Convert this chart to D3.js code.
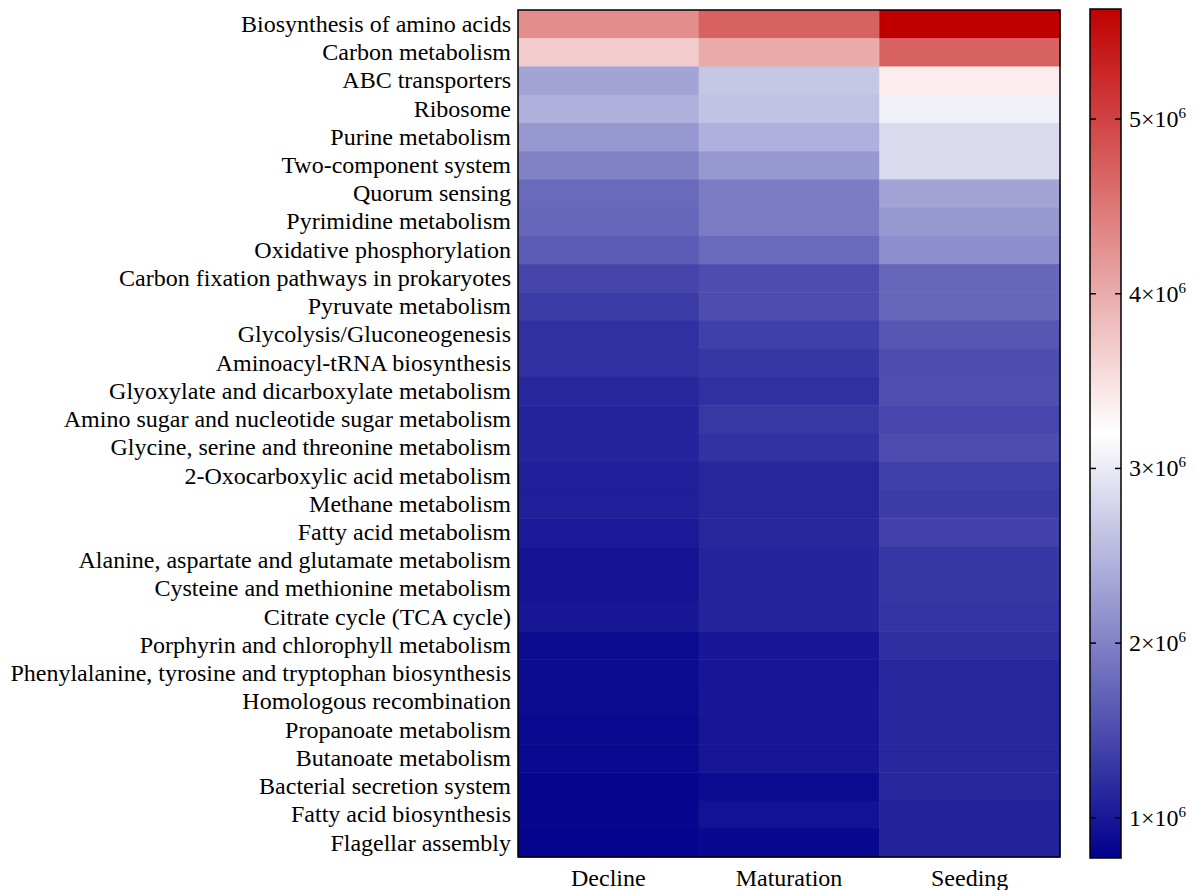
<!DOCTYPE html>
<html>
<head>
<meta charset="utf-8">
<script src="https://cdn.jsdelivr.net/npm/d3@7"></script>
<style>
  body { margin: 0; background: #fff; }
  text { font-family: "Liberation Serif", "Times New Roman", serif; fill: #000; }
</style>
</head>
<body>
<script>
var w = 1195, h = 890;
var plot = {left: 518, right: 1060, top: 10, bottom: 857};
var bar = {left: 1090, right: 1121, top: 9, bottom: 858};

// pathways, top to bottom
var pathways = [
  "Biosynthesis of amino acids", "Carbon metabolism", "ABC transporters", "Ribosome",
  "Purine metabolism", "Two-component system", "Quorum sensing", "Pyrimidine metabolism",
  "Oxidative phosphorylation", "Carbon fixation pathways in prokaryotes", "Pyruvate metabolism",
  "Glycolysis/Gluconeogenesis", "Aminoacyl-tRNA biosynthesis", "Glyoxylate and dicarboxylate metabolism",
  "Amino sugar and nucleotide sugar metabolism", "Glycine, serine and threonine metabolism",
  "2-Oxocarboxylic acid metabolism", "Methane metabolism", "Fatty acid metabolism",
  "Alanine, aspartate and glutamate metabolism", "Cysteine and methionine metabolism",
  "Citrate cycle (TCA cycle)", "Porphyrin and chlorophyll metabolism",
  "Phenylalanine, tyrosine and tryptophan biosynthesis", "Homologous recombination",
  "Propanoate metabolism", "Butanoate metabolism", "Bacterial secretion system",
  "Fatty acid biosynthesis", "Flagellar assembly"
];
var stages = ["Decline", "Maturation", "Seeding"];

// abundance (x10^6) per stage, same order as pathways
var decline = [4.29, 3.69, 2.32, 2.45, 2.20, 2.00, 1.78, 1.74, 1.65, 1.42, 1.34, 1.23, 1.23, 1.13, 1.11,
  1.11, 1.07, 1.07, 1.02, 0.96, 0.96, 1.00, 0.88, 0.88, 0.88, 0.87, 0.87, 0.83, 0.83, 0.81];
var maturation = [4.70, 4.00, 2.66, 2.62, 2.45, 2.22, 1.95, 1.95, 1.78, 1.50, 1.50, 1.38, 1.28, 1.23, 1.30,
  1.25, 1.13, 1.13, 1.13, 1.11, 1.11, 1.11, 1.00, 0.98, 1.00, 0.98, 0.98, 0.88, 0.94, 0.85];
var seeding = [5.63, 4.70, 3.37, 3.06, 2.85, 2.85, 2.32, 2.22, 2.12, 1.74, 1.74, 1.59, 1.50, 1.52, 1.44,
  1.50, 1.38, 1.34, 1.40, 1.28, 1.28, 1.27, 1.21, 1.15, 1.15, 1.15, 1.15, 1.15, 1.09, 1.09];

var colorDomain = [0.77e6, 3.2e6, 5.63e6];
var colorTicks = [1e6, 2e6, 3e6, 4e6, 5e6];

var cells = [];
[decline, maturation, seeding].forEach(function(series, j) {
  series.forEach(function(v, i) {
    cells.push({row: pathways[i], col: stages[j], value: v * 1e6});
  });
});

var color = d3.scaleLinear()
  .domain(colorDomain)
  .range(["rgb(0,0,140)", "#ffffff", "rgb(192,0,0)"]);

var x = d3.scaleBand().domain(stages).range([plot.left, plot.right]);
var y = d3.scaleBand().domain(pathways).range([plot.top, plot.bottom]);

var svg = d3.select("body").append("svg")
  .attr("width", w)
  .attr("height", h);

svg.append("g").selectAll("rect")
  .data(cells)
  .enter()
  .append("rect")
  .attr("x", function(d) { return x(d.col); })
  .attr("y", function(d) { return y(d.row); })
  .attr("width", x.bandwidth() + 0.5)
  .attr("height", y.bandwidth() + 0.5)
  .style("fill", function(d) { return color(d.value); });

svg.append("rect")
  .attr("x", plot.left).attr("y", plot.top)
  .attr("width", plot.right - plot.left).attr("height", plot.bottom - plot.top)
  .style("fill", "none").style("stroke", "#000").style("stroke-width", 1.5);

// row labels
var yAxis = svg.append("g")
  .attr("transform", "translate(" + plot.left + ",0)")
  .call(d3.axisLeft(y).tickSize(0).tickPadding(7));
yAxis.select(".domain").remove();
yAxis.selectAll("text")
  .style("font-family", "Liberation Serif")
  .style("font-size", "24px");

// column labels
var xAxis = svg.append("g")
  .attr("transform", "translate(0," + plot.bottom + ")")
  .call(d3.axisBottom(x).tickSize(0).tickPadding(0));
xAxis.select(".domain").remove();
xAxis.selectAll("text")
  .style("font-family", "Liberation Serif")
  .style("font-size", "24px")
  .attr("y", 29)
  .attr("dy", 0);

// colour bar
var c = d3.scaleLinear()
  .domain([colorDomain[0], colorDomain[2]])
  .range([bar.bottom, bar.top]);

var grad = svg.append("defs").append("linearGradient")
  .attr("id", "grad")
  .attr("x1", 0).attr("y1", 1).attr("x2", 0).attr("y2", 0);
d3.range(0, 1.0001, 0.05).forEach(function(t) {
  var v = colorDomain[0] + t * (colorDomain[2] - colorDomain[0]);
  grad.append("stop").attr("offset", t).attr("stop-color", color(v));
});

svg.append("rect")
  .attr("x", bar.left).attr("y", bar.top)
  .attr("width", bar.right - bar.left).attr("height", bar.bottom - bar.top)
  .style("fill", "url(#grad)")
  .style("stroke", "#000").style("stroke-width", 1.5);

var ticks = svg.append("g").selectAll("g")
  .data(colorTicks)
  .enter()
  .append("g")
  .attr("transform", function(d) { return "translate(0," + c(d) + ")"; });

ticks.append("line")
  .attr("x1", bar.left).attr("x2", bar.left + 6)
  .style("stroke", "#000").style("stroke-width", 1.5);
ticks.append("line")
  .attr("x1", bar.right - 6).attr("x2", bar.right)
  .style("stroke", "#000").style("stroke-width", 1.5);

var lab = ticks.append("text")
  .attr("x", bar.right + 8)
  .attr("y", 8)
  .style("font-size", "24px");
lab.append("tspan").text(function(d) { return (d / 1e6) + "×10"; });
lab.append("tspan")
  .attr("dy", -9)
  .style("font-size", "15px")
  .text("6");
</script>
</body>
</html>
